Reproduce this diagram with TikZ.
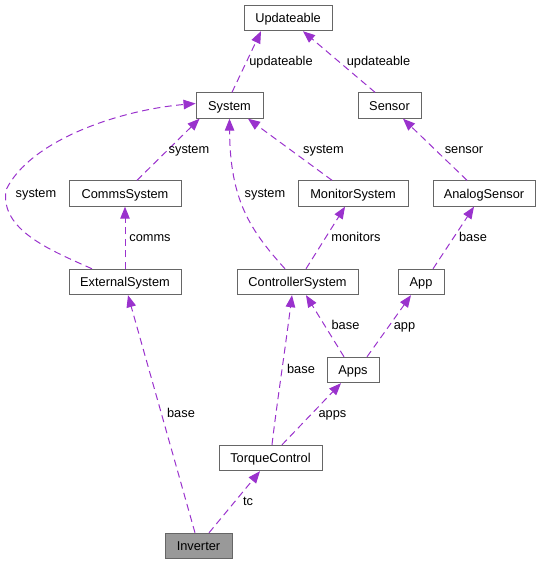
\documentclass[tikz,border=0pt]{standalone}
\usepackage{fontspec}
\setmainfont{Liberation Sans}
\usepackage{tikz}
\usetikzlibrary{arrows.meta}
\definecolor{relcol}{HTML}{9A32CD}
\definecolor{boxline}{HTML}{666666}
\definecolor{focusfill}{HTML}{999999}

\begin{document}
\begin{tikzpicture}[x=1pt,y=-1pt,
    cls/.style={draw=boxline,line width=0.9pt,fill=white,minimum height=25.5pt,inner sep=0pt,
      text height=10.8pt,text depth=1.6pt,font=\fontsize{12.8}{14}\selectfont},
    clsfocus/.style={cls,fill=focusfill},
    rel/.style={draw=relcol,line width=1pt,dash pattern=on 7pt off 4.5pt,
      -{Triangle[length=12pt,width=9.5pt,fill=relcol]}},
    lbl/.style={inner sep=0pt,text height=10.8pt,text depth=1.6pt,font=\fontsize{12.8}{14}\selectfont}]
  \useasboundingbox (0,0) rectangle (541,564);

  % classes
  \node[cls,minimum width=88pt] (upd) at (288,18) {Updateable};
  \node[cls,minimum width=67pt] (sys) at (229.5,105.5) {System};
  \node[cls,minimum width=63pt] (sen) at (389.5,105.5) {Sensor};
  \node[cls,minimum width=112pt] (com) at (125,193.5) {CommsSystem};
  \node[cls,minimum width=110pt] (mon) at (353,193.5) {MonitorSystem};
  \node[cls,minimum width=102pt] (ana) at (484,193.5) {AnalogSensor};
  \node[cls,minimum width=112pt] (ext) at (125,282) {ExternalSystem};
  \node[cls,minimum width=121pt] (ctl) at (297.5,282) {ControllerSystem};
  \node[cls,minimum width=46pt] (app) at (421,282) {App};
  \node[cls,minimum width=52pt] (apps) at (353,370) {Apps};
  \node[cls,minimum width=103pt] (tq) at (270.5,458) {TorqueControl};
  \node[clsfocus,minimum width=67pt] (inv) at (198.5,546) {Inverter};

  % relations
  \draw[rel] ([xshift=2.5pt]sys.north) -- ([xshift=-27pt]upd.south);
  \draw[rel] ([xshift=-14.5pt]sen.north) -- ([xshift=15pt]upd.south);
  \draw[rel] ([xshift=12pt]com.north) -- ([xshift=-30pt]sys.south);
  \draw[rel] ([xshift=-21pt]mon.north) -- ([xshift=18.5pt]sys.south);
  \draw[rel] ([xshift=-17pt]ana.north) -- ([xshift=13.5pt]sen.south);
  \draw[rel] ([xshift=-33pt]ext.north) .. controls (50,250) and (0,230) .. (6,190)
    .. controls (30,140) and (120,110) .. ([yshift=2pt]sys.west);
  \draw[rel] ([xshift=-12.5pt]ctl.north) .. controls (250,230) and (230,200) .. (sys.south);
  \draw[rel] (ext.north) -- (com.south);
  \draw[rel] ([xshift=8.5pt]ctl.north) -- ([xshift=-8pt]mon.south);
  \draw[rel] ([xshift=12pt]app.north) -- ([xshift=-10pt]ana.south);
  \draw[rel] ([xshift=-9pt]apps.north) -- ([xshift=8.5pt]ctl.south);
  \draw[rel] ([xshift=14pt]apps.north) -- ([xshift=-10pt]app.south);
  \draw[rel] ([xshift=1.5pt]tq.north) .. controls (276,410) and (285,350) .. ([xshift=-5.5pt]ctl.south);
  \draw[rel] ([xshift=11.5pt]tq.north) -- ([xshift=-12pt]apps.south);
  \draw[rel] ([xshift=-3.5pt]inv.north) -- ([xshift=3pt]ext.south);
  \draw[rel] ([xshift=10.5pt]inv.north) -- ([xshift=-10.5pt]tq.south);

  % relation labels
  \node[lbl] (l-sysupd) at (281,61) {updateable};
  \node[lbl] (l-senupd) at (378.5,61) {updateable};
  \node[lbl] (l-comsys) at (189,149) {system};
  \node[lbl] (l-monsys) at (323.5,149) {system};
  \node[lbl] (l-anasen) at (464,149) {sensor};
  \node[lbl] (l-extsys) at (36,193) {system};
  \node[lbl] (l-ctlsys) at (265,193) {system};
  \node[lbl] (l-extcom) at (150,237) {comms};
  \node[lbl] (l-ctlmon) at (356,237) {monitors};
  \node[lbl] (l-appana) at (473,237) {base};
  \node[lbl] (l-appsctl) at (345.5,325) {base};
  \node[lbl] (l-appsapp) at (404.5,325) {app};
  \node[lbl] (l-tqctl) at (301,369) {base};
  \node[lbl] (l-invext) at (181,413) {base};
  \node[lbl] (l-tqapps) at (332.5,413) {apps};
  \node[lbl] (l-invtq) at (248,501) {tc};
\end{tikzpicture}
\end{document}
